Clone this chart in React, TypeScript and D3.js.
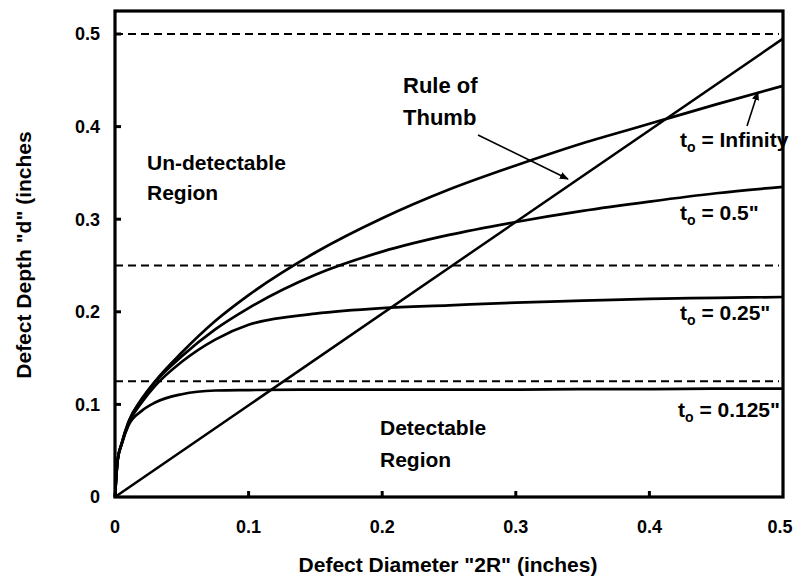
import React from "react";
import * as d3 from "d3";

const xGrid = [0, 0.002, 0.005, 0.01, 0.02, 0.03, 0.05, 0.075, 0.1, 0.15, 0.2, 0.25, 0.3, 0.35, 0.4, 0.45, 0.5];
const depthInfinity = [0, 0.04, 0.058, 0.081, 0.106, 0.125, 0.156, 0.19, 0.218, 0.264, 0.301, 0.332, 0.358, 0.382, 0.403, 0.424, 0.444];
const depthT050 = [0, 0.04, 0.058, 0.08, 0.105, 0.124, 0.152, 0.181, 0.204, 0.24, 0.265, 0.283, 0.297, 0.309, 0.319, 0.328, 0.335];
const depthT025 = [0, 0.04, 0.057, 0.079, 0.102, 0.12, 0.146, 0.17, 0.186, 0.198, 0.204, 0.207, 0.21, 0.212, 0.214, 0.215, 0.216];
const depthT0125 = [0, 0.04, 0.057, 0.077, 0.093, 0.102, 0.111, 0.115, 0.1155, 0.116, 0.116, 0.116, 0.116, 0.1165, 0.1165, 0.117, 0.117];
const ruleX = [0, 0.5];
const ruleY = [0, 0.495];
const thicknessLevels = [0.5, 0.25, 0.125];
const xTicks = [0, 0.1, 0.2, 0.3, 0.4, 0.5];
const yTicks = [0, 0.1, 0.2, 0.3, 0.4, 0.5];
const xTickLabels = ["0", "0.1", "0.2", "0.3", "0.4", "0.5"];
const yTickLabels = ["0", "0.1", "0.2", "0.3", "0.4", "0.5"];

const FONT = "'Liberation Sans', Arial, Helvetica, sans-serif";

export default function App() {
  const left = 115, right = 783, top = 11, bottom = 497;
  const x = d3.scaleLinear().domain([0, 0.5]).range([left, right]);
  const y = d3.scaleLinear().domain([0, 0.5]).range([bottom, 34]);

  const line = d3
    .line<[number, number]>()
    .x((d) => x(d[0]))
    .y((d) => y(d[1]))
    .curve(d3.curveMonotoneX);

  const series = [depthInfinity, depthT050, depthT025, depthT0125].map((ys) =>
    xGrid.map((xv, i) => [xv, ys[i]] as [number, number])
  );
  const rule = ruleX.map((xv, i) => [xv, ruleY[i]] as [number, number]);

  const tStyle = { fontFamily: FONT, fontWeight: 700, fill: "#000" } as const;

  const tLabel = (xp: number, yp: number, rest: string) => (
    <text x={xp} y={yp} fontSize={21} style={tStyle}>
      t<tspan fontSize={14} dy={5}>o</tspan>
      <tspan dy={-5}>{rest}</tspan>
    </text>
  );

  return (
    <svg width={794} height={580} style={{ position: "absolute", left: 0, top: 0, background: "#fff" }}>
      <defs>
        <marker id="ah" viewBox="0 0 10 10" refX="9" refY="5" markerWidth="9" markerHeight="9" markerUnits="userSpaceOnUse" orient="auto">
          <path d="M0,1 L10,5 L0,9 z" fill="#000" />
        </marker>
      </defs>
      <rect x={0} y={0} width={794} height={580} fill="#fff" />

      {thicknessLevels.map((lv) => (
        <line key={lv} x1={x(0)} x2={x(0.5) - 4} y1={y(lv)} y2={y(lv)} stroke="#000" strokeWidth={1.8} strokeDasharray="8,5" />
      ))}

      {series.map((s, i) => (
        <path key={i} d={line(s) || ""} fill="none" stroke="#000" strokeWidth={2.7} />
      ))}
      <path d={line(rule) || ""} fill="none" stroke="#000" strokeWidth={2.5} />

      {/* frame */}
      <rect x={left} y={top} width={right - left} height={bottom - top} fill="none" stroke="#000" strokeWidth={3.2} />

      {yTicks.slice(1).map((t) => (
        <line key={"yt" + t} x1={left} x2={left + 6} y1={y(t)} y2={y(t)} stroke="#000" strokeWidth={3} />
      ))}
      {xTicks.slice(1, -1).map((t) => (
        <line key={"xt" + t} x1={x(t)} x2={x(t)} y1={bottom} y2={bottom - 6} stroke="#000" strokeWidth={3} />
      ))}

      {yTicks.map((t, i) => (
        <text key={"yl" + t} x={100} y={y(t)} dy="0.36em" textAnchor="end" fontSize={18} style={tStyle}>
          {yTickLabels[i]}
        </text>
      ))}
      {xTicks.map((t, i) => (
        <text key={"xl" + t} x={Math.min(x(t), 780)} y={533} textAnchor="middle" fontSize={18} style={tStyle}>
          {xTickLabels[i]}
        </text>
      ))}

      <text x={448} y={572} textAnchor="middle" fontSize={21} style={tStyle}>
        Defect Diameter "2R" (inches)
      </text>
      <text transform="translate(31,255) rotate(-90)" textAnchor="middle" fontSize={21} style={tStyle}>
        Defect Depth "d" (inches
      </text>

      <text x={147} y={170} fontSize={21} style={tStyle}>Un-detectable</text>
      <text x={147} y={200} fontSize={21} style={tStyle}>Region</text>
      <text x={380} y={435} fontSize={21} style={tStyle}>Detectable</text>
      <text x={380} y={467} fontSize={21} style={tStyle}>Region</text>
      <text x={403} y={93} fontSize={22} style={tStyle}>Rule of</text>
      <text x={403} y={125} fontSize={22} style={tStyle}>Thumb</text>

      <line x1={478} y1={135} x2={568} y2={179} stroke="#000" strokeWidth={1.6} markerEnd="url(#ah)" />
      <line x1={747} y1={126} x2={758} y2={92} stroke="#000" strokeWidth={1.6} markerEnd="url(#ah)" />

      {tLabel(680, 147, " = Infinity")}
      {tLabel(680, 220, " = 0.5\"")}
      {tLabel(680, 320, " = 0.25\"")}
      {tLabel(678, 417, " = 0.125\"")}
    </svg>
  );
}
